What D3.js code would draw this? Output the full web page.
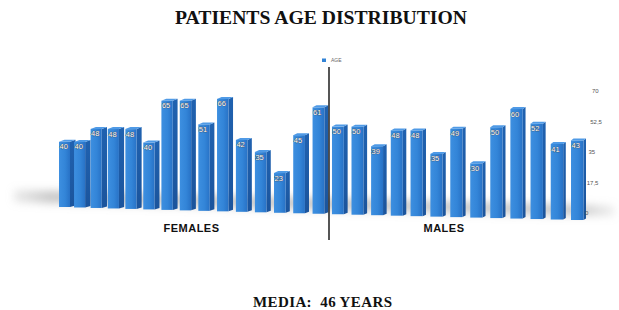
<!DOCTYPE html>
<html><head><meta charset="utf-8">
<script src="https://cdn.jsdelivr.net/npm/d3@7/dist/d3.min.js"></script>
<style>
html,body{margin:0;padding:0;background:#fff;}
svg{display:block;}
</style></head>
<body>
<svg id="chart" width="619" height="310"></svg>
<script>
const femaleAges = [40,40,48,48,48,40,65,65,51,66,42,35,23,45,61];
const maleAges = [50,50,39,48,48,35,49,30,50,60,52,41,43];
const groupLabels = ["FEMALES","MALES"];
const axisTicks = [0,17.5,35,52.5,70];
const seriesName = "AGE";
const titleText = "PATIENTS AGE DISTRIBUTION";
const footText = "MEDIA:  46 YEARS";

const data = femaleAges.map((v,i)=>({v, g:0})).concat(maleAges.map(v=>({v, g:1})));
const n = data.length;

const svg = d3.select("#chart");
const defs = svg.append("defs");
const fg = defs.append("linearGradient").attr("id","front").attr("x1","0").attr("x2","1").attr("y1","0").attr("y2","0");
fg.append("stop").attr("offset","0").attr("stop-color","#3d8fe0");
fg.append("stop").attr("offset","0.55").attr("stop-color","#3385d8");
fg.append("stop").attr("offset","1").attr("stop-color","#2872c6");
const sg = defs.append("linearGradient").attr("id","side").attr("x1","0").attr("x2","0").attr("y1","0").attr("y2","1");
sg.append("stop").attr("offset","0").attr("stop-color","#2062b0");
sg.append("stop").attr("offset","1").attr("stop-color","#1b549c");
defs.append("filter").attr("id","blur").attr("x","-20%").attr("y","-50%").attr("width","140%").attr("height","200%")
  .append("feGaussianBlur").attr("stdDeviation","4");
const shg = defs.append("linearGradient").attr("id","shadowg").attr("x1","0").attr("x2","1").attr("y1","0").attr("y2","0");
shg.append("stop").attr("offset","0").attr("stop-color","#aaa").attr("stop-opacity",0.25);
shg.append("stop").attr("offset","0.06").attr("stop-color","#999").attr("stop-opacity",0.55);
shg.append("stop").attr("offset","0.94").attr("stop-color","#999").attr("stop-opacity",0.55);
shg.append("stop").attr("offset","1").attr("stop-color","#aaa").attr("stop-opacity",0.2);

// perspective scales
const xPos = d3.scalePow().exponent(1.07).domain([0,n-1]).range([59,571]);
const baseY = d3.scaleLinear().domain([0,n-1]).range([207,220]);
const unit = d3.scaleLinear().domain([0,n-1]).range([1.63,1.85]);
const frontW = d3.scaleLinear().domain([0,n-1]).range([11,12.5]);
const sideW = d3.scaleLinear().domain([0,n-1]).range([5.5,2.5]);
const yFor = i => d3.scaleLinear().domain([0,70]).range([baseY(i), baseY(i)-70*unit(i)]);

// floor shadow
svg.append("polygon")
  .attr("points", [[14,190],[330,198],[614,206],[614,216],[330,210],[14,202]].map(p=>p.join(",")).join(" "))
  .attr("fill","url(#shadowg)").attr("filter","url(#blur)");

// title
svg.append("text").attr("x",321).attr("y",24).attr("text-anchor","middle")
  .attr("font-family","'Liberation Serif','DejaVu Serif',serif").attr("font-weight","bold")
  .attr("font-size",19).attr("textLength",292).attr("lengthAdjust","spacingAndGlyphs")
  .attr("fill","#111").text(titleText);

// legend
svg.append("rect").attr("x",322).attr("y",58.5).attr("width",4).attr("height",3.5).attr("fill","#3283d6");
svg.append("text").attr("x",331).attr("y",62).attr("font-family","Arial,'Liberation Sans',sans-serif")
  .attr("font-size",5).attr("fill","#666").text(seriesName);

// bars
const bars = svg.append("g");
data.forEach((d,i)=>{
  const y = yFor(i);
  const x = xPos(i), w = frontW(i), s = sideW(i);
  const top = y(d.v), bot = y(0);
  const g = bars.append("g");
  g.append("polygon").attr("points",[[x+w,top],[x+w+s,top-2],[x+w+s,bot-1.5],[x+w,bot]].map(p=>p.join(",")).join(" "))
    .attr("fill","url(#side)");
  g.append("rect").attr("x",x).attr("y",top).attr("width",w).attr("height",bot-top).attr("fill","url(#front)");
  g.append("polygon").attr("points",[[x,top],[x+s,top-2],[x+w+s,top-2],[x+w,top]].map(p=>p.join(",")).join(" "))
    .attr("fill","#4f9ae6");
  g.append("text").attr("x",x+0.5).attr("y",top+7.5)
    .attr("font-family","Arial,'Liberation Sans',sans-serif").attr("font-size",7.5)
    .attr("fill","#fff").attr("stroke","#3a4a60").attr("stroke-width",0.7).attr("paint-order","stroke")
    .text(d.v);
});

// right axis (tilted)
const axY = d3.scaleLinear().domain([0,70]).range([213,91]);
const axX = d3.scaleLinear().domain([0,70]).range([585,592]);
svg.append("g").selectAll("text").data(axisTicks).join("text")
  .attr("x",d=>axX(d)).attr("y",d=>axY(d)+2)
  .attr("font-family","Arial,'Liberation Sans',sans-serif").attr("font-size",6)
  .attr("fill","#555").text(d=>String(d).replace(".",","));

// divider
svg.append("line").attr("x1",329).attr("x2",329).attr("y1",67).attr("y2",240)
  .attr("stroke","#2b2b2b").attr("stroke-width",1.6);

// group labels
svg.append("text").attr("x",191.5).attr("y",232).attr("text-anchor","middle")
  .attr("font-family","Arial,'Liberation Sans',sans-serif").attr("font-weight","bold")
  .attr("font-size",11).attr("letter-spacing",0.5).attr("fill","#111").text(groupLabels[0]);
svg.append("text").attr("x",444).attr("y",232).attr("text-anchor","middle")
  .attr("font-family","Arial,'Liberation Sans',sans-serif").attr("font-weight","bold")
  .attr("font-size",11).attr("letter-spacing",0.5).attr("fill","#111").text(groupLabels[1]);

// footer
svg.append("text").attr("x",322.5).attr("y",307).attr("text-anchor","middle")
  .attr("font-family","'Liberation Serif','DejaVu Serif',serif").attr("font-weight","bold")
  .attr("font-size",15).attr("textLength",139).attr("lengthAdjust","spacing")
  .style("white-space","pre").attr("fill","#111").text(footText);
</script>
</body></html>
